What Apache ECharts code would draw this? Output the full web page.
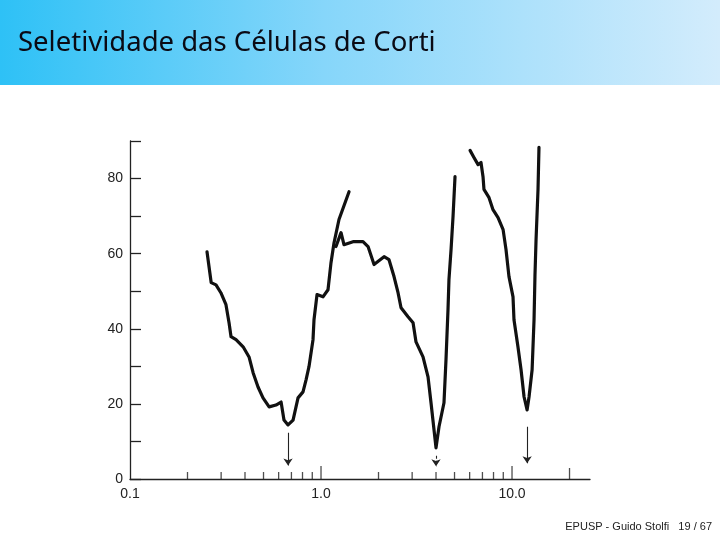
<!DOCTYPE html>
<html>
<head>
<meta charset="utf-8">
<script src="https://cdn.jsdelivr.net/npm/echarts@6/dist/echarts.min.js"></script>
<style>
  html, body { margin: 0; padding: 0; background: #ffffff; }
  #chart { width: 720px; height: 540px; }
</style>
</head>
<body>
<div id="chart"></div>
<script>
// ---- Data ----
const titleText = 'Seletividade das Células de Corti';
const footerText = 'EPUSP - Guido Stolfi   19 / 67';

// Curve 1 (lowest characteristic frequency)
const curve1Freq  = [0.253, 0.266, 0.282, 0.299, 0.318, 0.330, 0.338, 0.359, 0.391, 0.420, 0.441, 0.468, 0.497, 0.535, 0.581, 0.618, 0.640, 0.672, 0.714, 0.758, 0.805, 0.835, 0.865, 0.908, 0.919, 0.953, 1.024, 1.088, 1.128, 1.170, 1.242, 1.402];
const curve1Level = [60.5, 52.3, 51.7, 49.6, 46.4, 41.6, 37.9, 37.1, 35.2, 32.5, 28.3, 24.5, 21.6, 19.2, 19.7, 20.5, 15.7, 14.4, 15.7, 21.6, 23.2, 26.4, 29.9, 37.1, 42.4, 49.1, 48.5, 50.4, 57.6, 62.9, 69.1, 76.5];

// Curve 2
const curve2Freq  = [1.198, 1.273, 1.319, 1.471, 1.659, 1.763, 1.895, 2.138, 2.270, 2.411, 2.531, 2.624, 2.855, 3.033, 3.143, 3.420, 3.633, 3.766, 4.000, 4.147, 4.404, 4.511, 4.622, 4.676, 4.795, 4.911, 5.030];
const curve2Level = [61.9, 65.6, 62.4, 63.2, 63.2, 61.9, 57.1, 59.2, 58.4, 53.9, 49.6, 45.6, 43.2, 41.6, 36.5, 32.5, 27.2, 20.3, 8.3, 13.9, 20.3, 31.7, 45.1, 53.1, 61.1, 69.9, 80.5];

// Curve 3 (highest characteristic frequency)
const curve3Freq  = [6.03, 6.32, 6.64, 6.88, 7.05, 7.13, 7.58, 7.95, 8.45, 8.98, 9.30, 9.64, 10.12, 10.24, 10.74, 11.15, 11.56, 11.99, 12.28, 12.74, 13.04, 13.19, 13.36, 13.68, 13.84];
const curve3Level = [87.5, 85.6, 83.7, 84.3, 80.5, 77.1, 74.9, 71.7, 69.6, 66.4, 61.1, 53.9, 48.5, 42.4, 35.2, 29.1, 21.9, 18.4, 21.9, 29.1, 42.4, 54.4, 63.7, 77.1, 88.3];

// Arrows marking characteristic frequencies: [freq, fromLevel, toLevel]
const arrowFreq  = [0.672, 4.0, 12.0];
const arrowFrom  = [12.3, 6.2, 13.9];
const arrowTo    = [3.6, 3.4, 4.2];
const arrowDashed = [false, true, false];

// Axes
const xMin = 0.1, xMax = 25.6;
const yMin = 0, yMax = 90, yStep = 10;
const xTickLabels = { '0.1': '0.1', '1': '1.0', '10': '10.0' };
const yLabelEvery = 20;
const xMajorTicks = [1, 10];
const xMidTicks   = [20];
const xMinorTicks = [0.2, 0.3, 0.4, 0.5, 0.6, 0.7, 0.8, 0.9, 2, 3, 4, 5, 6, 7, 8, 9];

// ---- Build ----
const pairs = (xs, ys) => xs.map((x, i) => [x, ys[i]]);
const ink = '#111111';
const labelFont = 'Liberation Sans, Arial, sans-serif';

function tickSeries(vals, len) {
  return {
    type: 'scatter',
    data: vals.map(v => [v, 0]),
    symbol: 'rect',
    symbolSize: [1.3, len],
    symbolOffset: [0, -len / 2],
    itemStyle: { color: '#222' },
    clip: false,
    silent: true,
    z: 3
  };
}

const curveStyle = {
  type: 'line',
  showSymbol: false,
  symbol: 'none',
  lineStyle: { color: ink, width: 3.2, join: 'round', cap: 'round' },
  silent: true,
  z: 4
};

const arrowSeries = arrowFreq.map((f, i) => ({
  type: 'lines',
  coordinateSystem: 'cartesian2d',
  data: [{ coords: [[f, arrowFrom[i]], [f, arrowTo[i]]] }],
  symbol: ['none', 'arrow'],
  symbolSize: [0, 7],
  lineStyle: { color: '#222', width: 1.1, type: arrowDashed[i] ? [3, 2] : 'solid', opacity: 1 },
  silent: true,
  z: 3
}));

const chart = echarts.init(document.getElementById('chart'), null, { renderer: 'canvas' });
chart.setOption({
  animation: false,
  backgroundColor: '#ffffff',
  graphic: [
    {
      type: 'rect',
      left: 0, top: 0,
      shape: { width: 720, height: 85 },
      style: {
        fill: new echarts.graphic.LinearGradient(0, 0, 1, 0, [
          { offset: 0, color: '#2ec1f6' },
          { offset: 0.45, color: '#86d6fa' },
          { offset: 1, color: '#d3ecfc' }
        ])
      },
      z: 0
    },
    {
      type: 'text',
      left: 18, top: 29,
      style: { text: titleText, fill: '#0a0a14', font: '27.5px "Noto Sans", "Open Sans", sans-serif' },
      z: 1
    },
    {
      type: 'text',
      right: 8, top: 521,
      style: { text: footerText, fill: '#222', font: '11px "Liberation Sans", Arial, sans-serif' },
      z: 1
    }
  ],
  grid: { left: 130, right: 130, top: 141, bottom: 61, containLabel: false },
  xAxis: {
    type: 'log',
    logBase: 10,
    min: xMin,
    max: xMax,
    axisLine: { show: true, lineStyle: { color: '#222', width: 1.3 } },
    axisTick: { show: false },
    minorTick: { show: false },
    splitLine: { show: false },
    axisLabel: {
      color: '#222',
      fontFamily: labelFont,
      fontSize: 14,
      margin: 8,
      showMaxLabel: false,
      formatter: function (v) {
        for (const k in xTickLabels) {
          if (Math.abs(Math.log10(v) - Math.log10(parseFloat(k))) < 1e-6) return xTickLabels[k];
        }
        return '';
      }
    }
  },
  yAxis: {
    type: 'value',
    min: yMin,
    max: yMax,
    interval: yStep,
    axisLine: { show: true, lineStyle: { color: '#222', width: 1.3 } },
    axisTick: { show: true, inside: true, length: 11, lineStyle: { color: '#222', width: 1.3 } },
    splitLine: { show: false },
    axisLabel: {
      color: '#222',
      fontFamily: labelFont,
      fontSize: 14,
      margin: 7,
      formatter: v => (v % yLabelEvery === 0 && v < yMax ? String(v) : '')
    }
  },
  series: [
    Object.assign({}, curveStyle, { data: pairs(curve1Freq, curve1Level) }),
    Object.assign({}, curveStyle, { data: pairs(curve2Freq, curve2Level) }),
    Object.assign({}, curveStyle, { data: pairs(curve3Freq, curve3Level) }),
    tickSeries(xMajorTicks, 13),
    tickSeries(xMidTicks, 11),
    tickSeries(xMinorTicks, 7)
  ].concat(arrowSeries)
});
</script>
</body>
</html>
